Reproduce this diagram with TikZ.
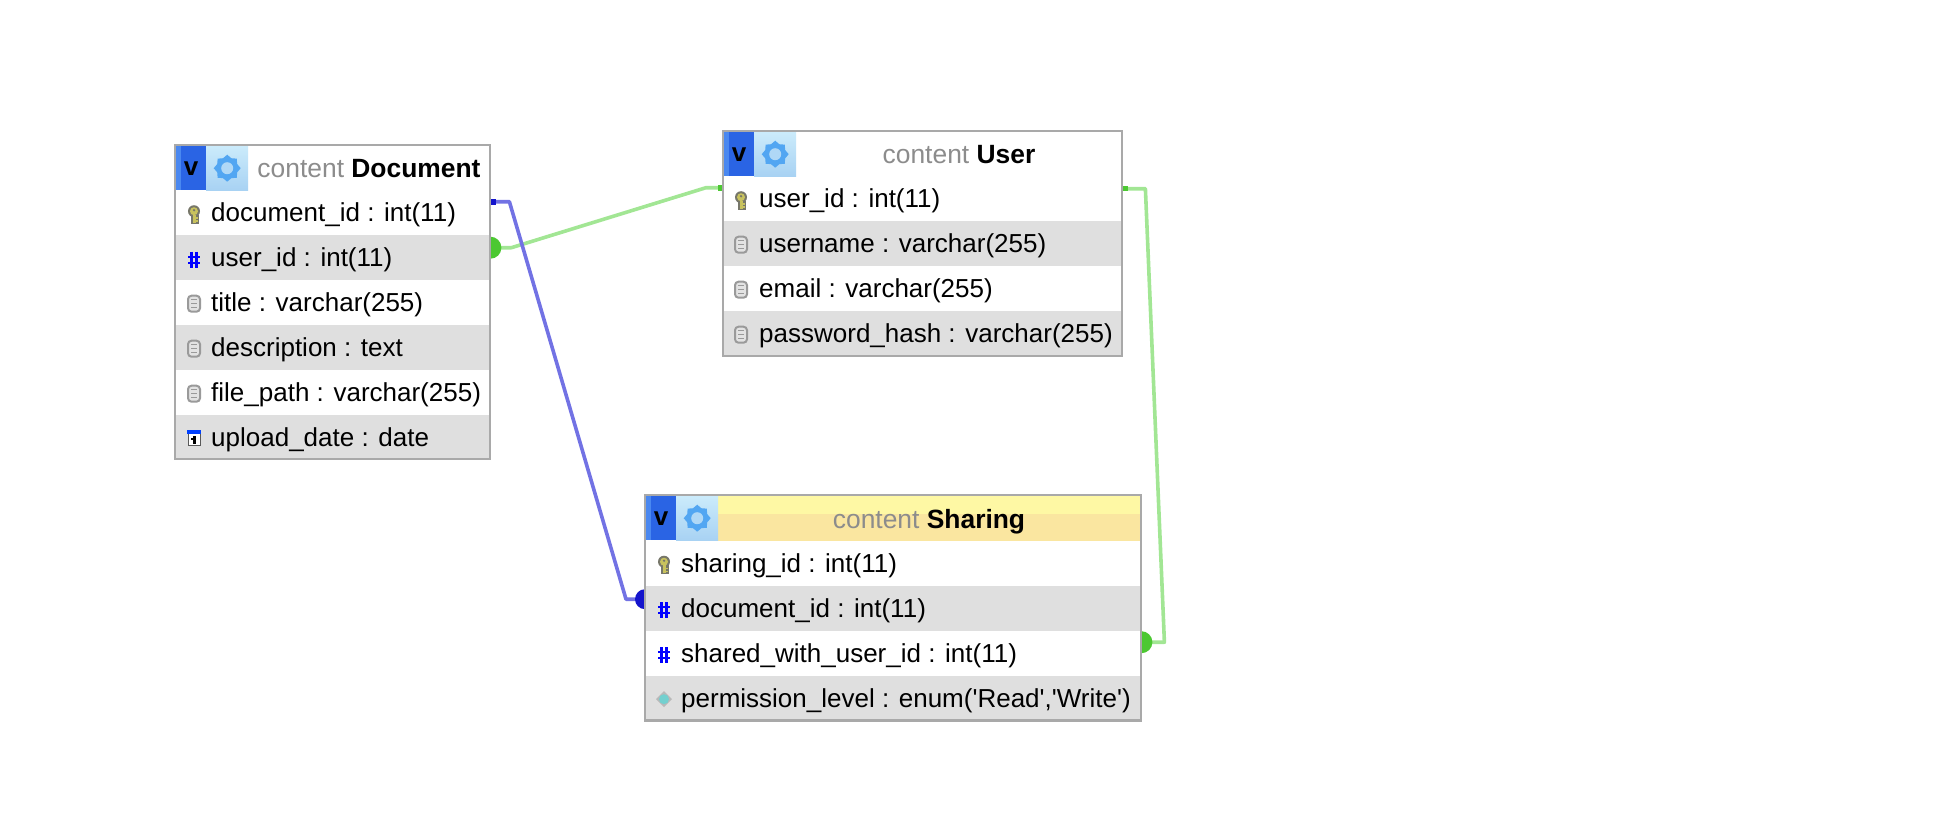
\documentclass[tikz,border=0pt]{standalone}
\usepackage{fontspec}
\newfontfamily\tablefont{Liberation Sans}
\usetikzlibrary{backgrounds,shapes.geometric}
\definecolor{rowgray}{HTML}{DFDFDF}
\definecolor{framegray}{HTML}{A9A9A9}
\definecolor{titlegray}{HTML}{8C8C8C}
\definecolor{linkblue}{HTML}{7272E4}
\definecolor{dotblue}{HTML}{1414CC}
\definecolor{linkgreen}{HTML}{A2E694}
\definecolor{dotgreen}{HTML}{4CC832}
\definecolor{keyyellow}{HTML}{C8C25E}
\definecolor{keygray}{HTML}{77776A}
\definecolor{gearblue}{HTML}{52A6F2}
\definecolor{gearhole}{HTML}{B0D8F6}
\definecolor{vmain}{HTML}{2A64E4}
\definecolor{vstrip}{HTML}{4A88F0}
\definecolor{geartop}{HTML}{CBEBFB}
\definecolor{gearbottom}{HTML}{A8D2F3}
\definecolor{headtop}{HTML}{FEF8A4}
\definecolor{headbottom}{HTML}{FAE6A0}
\definecolor{fieldgray}{HTML}{9A9A9A}
\tikzset{
  rowplain/.style={rectangle,fill=white,inner sep=0pt,minimum height=45pt,minimum width=#1,anchor=north west},
  rowshade/.style={rowplain=#1,fill=rowgray},
  rowtext/.style={anchor=base west,inner sep=0pt,font=\tablefont\fontsize{26}{30}\selectfont},
  titletext/.style={anchor=base,inner sep=0pt,text=titlegray,font=\tablefont\fontsize{26.4}{30}\selectfont},
  tableframe/.style={draw=framegray,line width=2.4pt},
  vbutton/.style={rectangle,inner sep=0pt,minimum width=30pt,minimum height=44pt,anchor=north west,fill=vmain,
    path picture={\fill[vstrip] (path picture bounding box.north west) rectangle ([xshift=5pt]path picture bounding box.south west);},
    font=\tablefont\bfseries\fontsize{26}{30}\selectfont},
  gearbutton/.style={rectangle,inner sep=0pt,minimum width=42pt,minimum height=44pt,anchor=north west,
    top color=geartop,bottom color=gearbottom},
  gearstar/.style={star,star points=8,star point ratio=1.25,minimum size=27pt,inner sep=0pt,fill=gearblue},
  bluelink/.style={draw=linkblue,line width=3.6pt,line join=round},
  greenlink/.style={draw=linkgreen,line width=3.6pt,line join=round},
  keyicon/.pic={
    \fill[keygray] (0,-3.5) circle (6);
    \fill[keygray] (-3,0) rectangle (5,9);
    \fill[keyyellow] (0,-3.5) circle (4);
    \fill[keygray] (0,-4.5) circle (1.3);
    \fill[keyyellow] (-1.5,0) rectangle (1.5,8);
    \fill[keyyellow] (1.5,2.5) rectangle (4,4);
    \fill[keyyellow] (1.5,5.5) rectangle (4,7);
  },
  hashicon/.pic={
    \draw[blue,line width=2.4pt] (-2.5,-8) -- (-2.5,8) (2.5,-8) -- (2.5,8) (-6,-3) -- (6,-3) (-6,3) -- (6,3);
  },
  fieldicon/.pic={
    \draw[fill=gray!22,draw=fieldgray,line width=2pt,rounded corners=3.5pt] (-6,-8) rectangle (6,8);
    \draw[fieldgray,line width=1.5pt] (-3,-4) -- (3,-4) (-3,0) -- (3,0) (-3,4) -- (3,4);
  },
  dateicon/.pic={
    \fill[white] (-6,-7) rectangle (6,8);
    \draw[gray!70!black,line width=1pt] (-6,-7) rectangle (6,8);
    \fill[blue!75!cyan] (-7,-8) rectangle (7,-4);
    \fill[black] (-1,-2) rectangle (2,6);
    \fill[black] (-3,0) rectangle (0,2);
  },
  enumicon/.pic={
    \fill[gray!55] (-8,0) -- (0,-8) -- (8,0) -- (0,8) -- cycle;
    \fill[cyan!65!green!55] (0,0) circle (5);
  },
}
\begin{document}
\begin{tikzpicture}[x=1pt,y=-1pt,line cap=butt]
  \useasboundingbox (0,0) rectangle (1960,832);

  % Document
  \node[rowplain=313pt] (dochead) at (176,146) {};
  \node[rowplain=313pt] (docid) at (176,190) {};
  \node[rowshade=313pt] (docuser) at (176,235) {};
  \node[rowplain=313pt] (doctitle) at (176,280) {};
  \node[rowshade=313pt] (docdesc) at (176,325) {};
  \node[rowplain=313pt] (docpath) at (176,370) {};
  \node[rowshade=313pt] (docdate) at (176,415) {};
  \draw[tableframe] (175,145) rectangle (490,459);
  \node[vbutton] (docv) at (176,146) {v};
  \node[gearbutton] (docgear) at (206,146) {};
  \node[gearstar] (docstar) at (docgear.center) {};
  \fill[gearhole] (docstar.center) circle (6);
  \node[titletext] (docname) at (369,178) {content \textcolor{black}{\bfseries Document}};
  \node[rowtext] at ([xshift=35pt,yshift=-9pt]docid.west) {document\_id : int(11)};
  \node[rowtext] at ([xshift=35pt,yshift=-9pt]docuser.west) {user\_id : int(11)};
  \node[rowtext] at ([xshift=35pt,yshift=-9pt]doctitle.west) {title : varchar(255)};
  \node[rowtext] at ([xshift=35pt,yshift=-9pt]docdesc.west) {description : text};
  \node[rowtext] at ([xshift=35pt,yshift=-9pt]docpath.west) {file\_path : varchar(255)};
  \node[rowtext] at ([xshift=35pt,yshift=-9pt]docdate.west) {upload\_date : date};
  \pic at ([xshift=18pt,yshift=-2pt]docid.west) {keyicon};
  \pic at ([xshift=18pt,yshift=-2pt]docuser.west) {hashicon};
  \pic at ([xshift=18pt,yshift=-1pt]doctitle.west) {fieldicon};
  \pic at ([xshift=18pt,yshift=-1pt]docdesc.west) {fieldicon};
  \pic at ([xshift=18pt,yshift=-1pt]docpath.west) {fieldicon};
  \pic at ([xshift=18pt]docdate.west) {dateicon};

  % User
  \node[rowplain=397pt] (userhead) at (724,132) {};
  \node[rowplain=397pt] (userid) at (724,176) {};
  \node[rowshade=397pt] (username) at (724,221) {};
  \node[rowplain=397pt] (useremail) at (724,266) {};
  \node[rowshade=397pt] (userpass) at (724,311) {};
  \draw[tableframe] (723,131) rectangle (1122,356);
  \node[vbutton] (userv) at (724,132) {v};
  \node[gearbutton] (usergear) at (754,132) {};
  \node[gearstar] (userstar) at (usergear.center) {};
  \fill[gearhole] (userstar.center) circle (6);
  \node[titletext] (usertitle) at (959,164) {content \textcolor{black}{\bfseries User}};
  \node[rowtext] at ([xshift=35pt,yshift=-9pt]userid.west) {user\_id : int(11)};
  \node[rowtext] at ([xshift=35pt,yshift=-9pt]username.west) {username : varchar(255)};
  \node[rowtext] at ([xshift=35pt,yshift=-9pt]useremail.west) {email : varchar(255)};
  \node[rowtext] at ([xshift=35pt,yshift=-9pt]userpass.west) {password\_hash : varchar(255)};
  \pic at ([xshift=17pt,yshift=-2pt]userid.west) {keyicon};
  \pic at ([xshift=17pt,yshift=-1pt]username.west) {fieldicon};
  \pic at ([xshift=17pt,yshift=-1pt]useremail.west) {fieldicon};
  \pic at ([xshift=17pt,yshift=-1pt]userpass.west) {fieldicon};

  % Sharing
  \node[rowplain=494pt] (shareid) at (646,540.5) {};
  \node[rowshade=494pt] (sharedoc) at (646,585.5) {};
  \node[rowplain=494pt] (shareuser) at (646,630.5) {};
  \node[rowshade=494pt] (shareperm) at (646,675.5) {};
  \fill[headtop] (718,496) rectangle (1140,514);
  \fill[headbottom] (718,514) rectangle (1140,540.5);
  \draw[tableframe] (645,495) rectangle (1141,720.5);
  \node[vbutton] (sharev) at (646,496) {v};
  \node[gearbutton] (sharegear) at (676,496) {};
  \node[gearstar] (sharestar) at (sharegear.center) {};
  \fill[gearhole] (sharestar.center) circle (6);
  \node[titletext] (sharetitle) at (929,528) {content \textcolor{black}{\bfseries Sharing}};
  \node[rowtext] at ([xshift=35pt,yshift=-9pt]shareid.west) {sharing\_id : int(11)};
  \node[rowtext] at ([xshift=35pt,yshift=-9pt]sharedoc.west) {document\_id : int(11)};
  \node[rowtext] at ([xshift=35pt,yshift=-9pt]shareuser.west) {shared\_with\_user\_id : int(11)};
  \node[rowtext] at ([xshift=35pt,yshift=-9pt]shareperm.west) {permission\_level : enum('Read','Write')};
  \pic at ([xshift=18pt,yshift=-2pt]shareid.west) {keyicon};
  \pic at ([xshift=18pt,yshift=-2pt]sharedoc.west) {hashicon};
  \pic at ([xshift=18pt,yshift=-2pt]shareuser.west) {hashicon};
  \pic at ([xshift=18pt,yshift=-1pt]shareperm.west) {enumicon};

  % links
  \begin{scope}[on background layer]
    \draw[greenlink] ([yshift=10pt]docuser.east) -- ++(22,0) -- ([xshift=-18pt,yshift=11pt]userid.west) -- ([yshift=11pt]userid.west);
    \draw[greenlink] ([yshift=10pt]userid.east) -- ++(24,0) -- ([xshift=24pt,yshift=11pt]shareuser.east) -- ([yshift=11pt]shareuser.east);
    \draw[bluelink] ([yshift=11pt]docid.east) -- ++(20,0) -- ([xshift=-20pt,yshift=9pt]sharedoc.west) -- ([yshift=9pt]sharedoc.west);
    \fill[dotgreen] ([xshift=1pt,yshift=10pt]docuser.east) circle (11);
    \fill[dotgreen] ([xshift=1pt,yshift=11pt]shareuser.east) circle (11);
    \fill[dotblue] ([xshift=-1pt,yshift=9pt]sharedoc.west) circle (10);
    \fill[dotblue] ([xshift=1pt,yshift=8pt]docid.east) rectangle ([xshift=7pt,yshift=14pt]docid.east);
    \fill[dotgreen] ([xshift=-6pt,yshift=8pt]userid.west) rectangle ([yshift=14pt]userid.west);
    \fill[dotgreen] ([xshift=1pt,yshift=8pt]userid.east) rectangle ([xshift=7pt,yshift=13pt]userid.east);
  \end{scope}
\end{tikzpicture}
\end{document}
